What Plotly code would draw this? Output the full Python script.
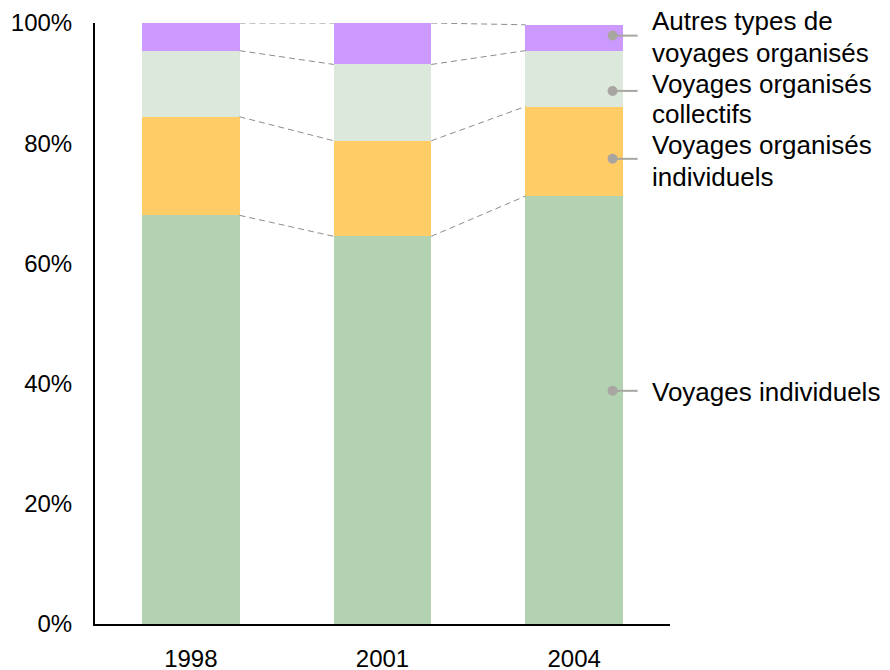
import plotly.graph_objects as go

# Répartition des voyages par type d'organisation (en % du total)
years = ["1998", "2001", "2004"]
series_names = [
    "Voyages individuels",
    "Voyages organisés individuels",
    "Voyages organisés collectifs",
    "Autres types de voyages organisés",
]
voyages_individuels = [68.0, 64.5, 71.2]
organises_individuels = [16.4, 15.9, 14.9]
organises_collectifs = [11.0, 12.7, 9.3]
autres_organises = [4.6, 6.9, 4.3]
y_ticks = [0, 20, 40, 60, 80, 100]
y_tick_text = ["0%", "20%", "40%", "60%", "80%", "100%"]

series_values = [voyages_individuels, organises_individuels,
                 organises_collectifs, autres_organises]
colors = ["#b2d2b1", "#ffcc66", "#dbe8db", "#cc99ff"]
label_lines = [
    ["Voyages individuels"],
    ["Voyages organisés", "individuels"],
    ["Voyages organisés", "collectifs"],
    ["Autres types de", "voyages organisés"],
]
# vertical placement of the side labels (fraction of the plot height)
dot_y = [0.388, 0.774, 0.887, 0.979]
line_y = [
    [0.386],
    [0.797, 0.744],
    [0.8985, 0.8486],
    [1.0033, 0.9493],
]

FONT = "Arial, Liberation Sans, Helvetica, sans-serif"
BARGAP = 0.492
half = (1 - BARGAP) / 2

fig = go.Figure()
for name, vals, col in zip(series_names, series_values, colors):
    fig.add_trace(go.Bar(
        x=years, y=vals, name=name, marker=dict(color=col, line=dict(width=0)),
        hoverinfo="skip", showlegend=False,
    ))

# dashed connectors between the stacked boundaries of neighbouring bars
shapes = []
cum = [0.0] * len(years)
for vals in series_values:
    cum = [c + v for c, v in zip(cum, vals)]
    for i in range(len(years) - 1):
        shapes.append(dict(
            type="line", xref="x", yref="y",
            x0=i + half, x1=i + 1 - half, y0=cum[i], y1=cum[i + 1],
            line=dict(color="#8c8c8c", width=1, dash="6px,4px"),
        ))

# side labels: dot + leader line + text
x_dot = (613 - 94.5) / 576
x_line_end = (638 - 94.5) / 576
x_text = (650 - 94.5) / 576
annotations = []
for lines, dy, lys in zip(label_lines, dot_y, line_y):
    shapes.append(dict(type="line", xref="paper", yref="paper",
                       x0=x_dot, x1=x_line_end, y0=dy, y1=dy,
                       line=dict(color="#a9a5a1", width=2)))
    shapes.append(dict(type="circle", xref="paper", yref="paper",
                       xsizemode="pixel", ysizemode="pixel",
                       xanchor=x_dot, yanchor=dy,
                       x0=-5, x1=5, y0=-5, y1=5,
                       fillcolor="#a9a5a1", line=dict(width=0)))
    for txt, ly in zip(lines, lys):
        annotations.append(dict(
            text=txt, xref="paper", yref="paper", x=x_text, y=ly,
            xanchor="left", yanchor="middle", align="left", showarrow=False,
            font=dict(family=FONT, size=26, color="#000000"),
        ))

fig.update_layout(
    template="none",
    barmode="stack",
    bargap=BARGAP,
    width=890, height=670,
    margin=dict(l=94.5, r=219.5, t=23, b=46, pad=0),
    paper_bgcolor="white", plot_bgcolor="white",
    shapes=shapes, annotations=annotations,
    font=dict(family=FONT, size=24, color="#000000"),
    xaxis=dict(
        type="category", range=[-0.5, 2.5], showgrid=False, zeroline=False,
        showline=True, linecolor="#000000", linewidth=2, automargin=False,
        ticks="", ticklabelstandoff=12,
        tickfont=dict(family=FONT, size=24, color="#000000"),
    ),
    yaxis=dict(
        range=[0, 100], showgrid=False, zeroline=False,
        showline=True, linecolor="#000000", linewidth=2, automargin=False,
        tickvals=y_ticks, ticktext=y_tick_text, ticks="",
        ticklabelstandoff=16,
        tickfont=dict(family=FONT, size=24, color="#000000"),
    ),
)

fig.write_html("out.html")
